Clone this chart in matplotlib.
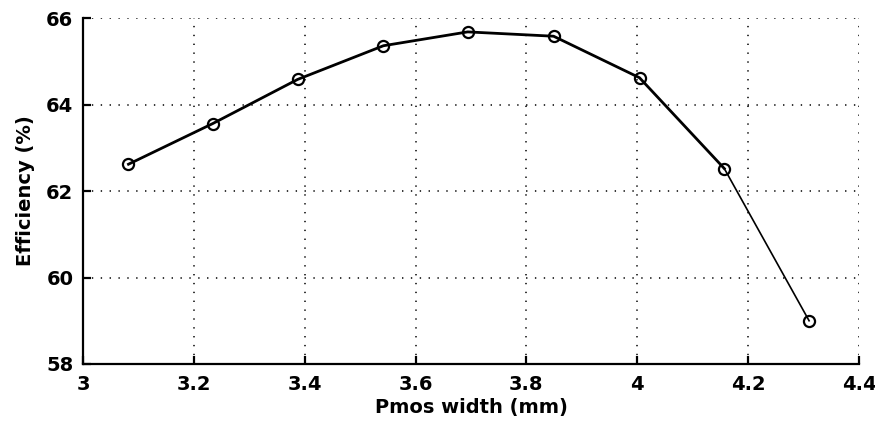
import matplotlib
matplotlib.use("Agg")
import matplotlib.pyplot as plt

# Pmos width (mm) vs efficiency (%)
width=[3.082,3.234,3.387,3.542,3.694,3.849,4.004,4.157,4.310]
eff=[62.62,63.56,64.58,65.36,65.68,65.58,64.62,62.52,59.00]
xticks=[3,3.2,3.4,3.6,3.8,4,4.2,4.4]
yticks=[58,60,62,64,66]

plt.rcParams["font.family"]=["DejaVu Sans"]
plt.rcParams["font.weight"]="bold"

fig=plt.figure(figsize=(8.75,4.3),dpi=100)
ax=fig.add_axes([0.0949,0.1535,0.8868,0.8045])

ax.plot(width[:8],eff[:8],color="black",lw=2.0,zorder=3)
ax.plot(width[7:],eff[7:],color="black",lw=1.2,zorder=3)
ax.plot(width,eff,ls="none",marker="o",ms=8,mfc="none",mec="black",mew=1.6,zorder=4)

ax.set_xlim(3,4.4)
ax.set_ylim(58,66)
ax.set_xticks(xticks)
ax.set_xticklabels(["3","3.2","3.4","3.6","3.8","4","4.2","4.4"])
ax.set_yticks(yticks)

ax.grid(True,color="black",lw=1.1,linestyle=(0,(0.9,4.9)))
for s in ["top","right"]:
    ax.spines[s].set_visible(False)
for s in ["left","bottom"]:
    ax.spines[s].set_linewidth(1.6)
ax.tick_params(direction="in",length=6,width=1.6,labelsize=14,pad=7)
ax.tick_params(axis="x",pad=8)

ax.set_xlabel("Pmos width (mm)",fontsize=14,fontweight="bold",labelpad=3)
ax.set_ylabel("Efficiency (%)",fontsize=14,fontweight="bold",labelpad=8)

fig.savefig("out.png",dpi=100)
